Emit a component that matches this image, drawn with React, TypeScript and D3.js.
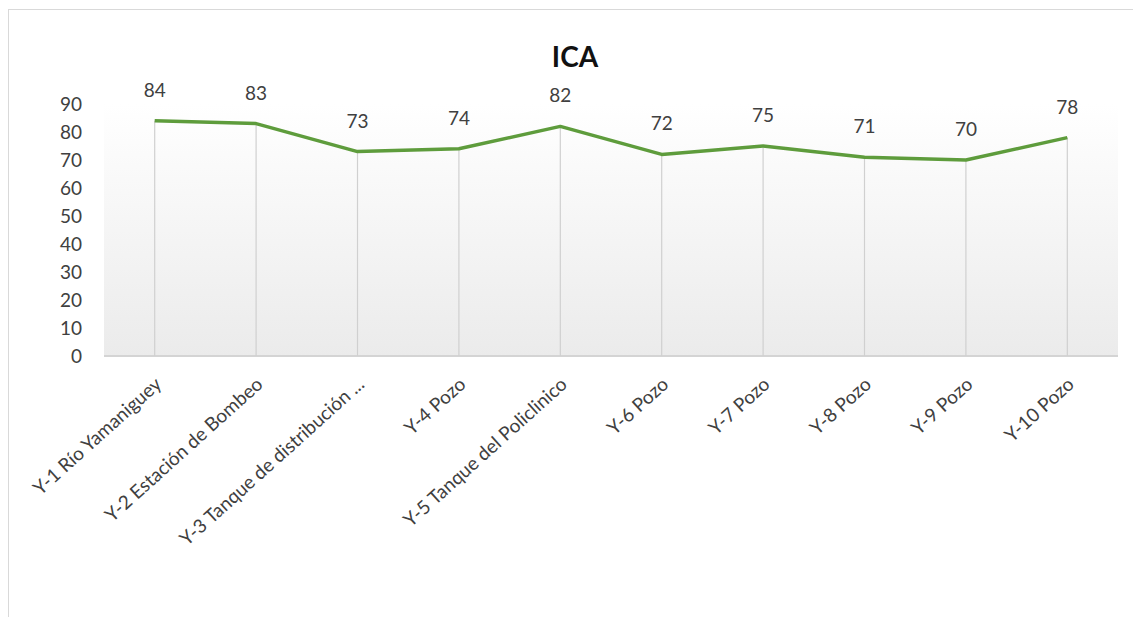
import React, { useRef, useEffect } from 'react';
import * as d3 from 'd3';

const categories = [
  'Y-1 Río Yamaniguey',
  'Y-2 Estación de Bombeo',
  'Y-3 Tanque de distribución ...',
  'Y-4 Pozo',
  'Y-5 Tanque del Policlinico',
  'Y-6 Pozo',
  'Y-7 Pozo',
  'Y-8 Pozo',
  'Y-9 Pozo',
  'Y-10 Pozo',
];
const icaValues = [84, 83, 73, 74, 82, 72, 75, 71, 70, 78];
const yTicks = [0, 10, 20, 30, 40, 50, 60, 70, 80, 90];

const FONT = 'Lato, "Open Sans", "Liberation Sans", sans-serif';

export default function App() {
  const svgRef = useRef<SVGSVGElement>(null);
  const width = 1133;
  const height = 617;

  useEffect(() => {
    if (!svgRef.current) return;
    const svg = d3.select(svgRef.current);
    svg.selectAll('*').remove();

    const plot = { left: 104, right: 1118, top: 104, bottom: 356 };

    const x = d3.scaleBand<string>().domain(categories).range([plot.left, plot.right]);
    const y = d3.scaleLinear().domain([0, 90]).range([plot.bottom, plot.top]);
    const cx = (c: string) => (x(c) ?? 0) + x.bandwidth() / 2;

    // chart frame
    svg.append('rect')
      .attr('x', 8.5).attr('y', 9.5)
      .attr('width', width + 20).attr('height', height + 20)
      .attr('fill', '#fff').attr('stroke', '#d9d9d9');

    // plot gradient
    const grad = svg.append('defs').append('linearGradient')
      .attr('id', 'plotGrad').attr('x1', 0).attr('y1', 0).attr('x2', 0).attr('y2', 1);
    grad.append('stop').attr('offset', '0%').attr('stop-color', '#ffffff');
    grad.append('stop').attr('offset', '100%').attr('stop-color', '#ebebeb');

    svg.append('rect')
      .attr('x', plot.left).attr('y', plot.top)
      .attr('width', plot.right - plot.left).attr('height', plot.bottom - plot.top)
      .attr('fill', 'url(#plotGrad)');

    // baseline
    svg.append('line')
      .attr('x1', plot.left).attr('x2', plot.right)
      .attr('y1', y(0)).attr('y2', y(0))
      .attr('stroke', '#d4d4d4').attr('stroke-width', 2);

    // drop lines
    svg.append('g').selectAll('line')
      .data(categories)
      .enter()
      .append('line')
      .attr('x1', d => cx(d)).attr('x2', d => cx(d))
      .attr('y1', (d, i) => y(icaValues[i])).attr('y2', y(0))
      .attr('stroke', '#d0d0d0').attr('stroke-width', 1.2);

    // y axis labels
    svg.append('g').selectAll('text')
      .data(yTicks)
      .enter()
      .append('text')
      .attr('x', 82).attr('y', d => y(d))
      .attr('dy', '0.36em')
      .attr('text-anchor', 'end')
      .style('font-family', FONT).style('font-size', '19px')
      .attr('fill', '#404040')
      .text(d => d);

    // line
    const line = d3.line<number>()
      .x((d, i) => cx(categories[i]))
      .y(d => y(d));
    svg.append('path')
      .datum(icaValues)
      .attr('d', line)
      .attr('fill', 'none')
      .attr('stroke', '#5e9c3c')
      .attr('stroke-width', 3.5)
      .attr('stroke-linejoin', 'round');

    // data labels
    svg.append('g').selectAll('text')
      .data(icaValues)
      .enter()
      .append('text')
      .attr('x', (d, i) => cx(categories[i]))
      .attr('y', d => y(d) - 24)
      .attr('text-anchor', 'middle')
      .style('font-family', FONT).style('font-size', '19px')
      .attr('fill', '#404040')
      .text(d => d);

    // x labels
    svg.append('g').selectAll('text')
      .data(categories)
      .enter()
      .append('text')
      .attr('transform', d => `translate(${cx(d) + 8},${plot.bottom + 30}) rotate(-42)`)
      .attr('text-anchor', 'end')
      .style('font-family', FONT).style('font-size', '19px')
      .attr('fill', '#404040')
      .text(d => d);

    // title
    svg.append('text')
      .attr('x', 575).attr('y', 67)
      .attr('text-anchor', 'middle')
      .style('font-family', FONT).style('font-size', '28px').style('font-weight', 'bold')
      .attr('fill', '#111')
      .text('ICA');
  }, []);

  return (
    <svg
      ref={svgRef}
      width={width}
      height={height}
      style={{ position: 'absolute', left: 0, top: 0, background: '#fff' }}
    />
  );
}
